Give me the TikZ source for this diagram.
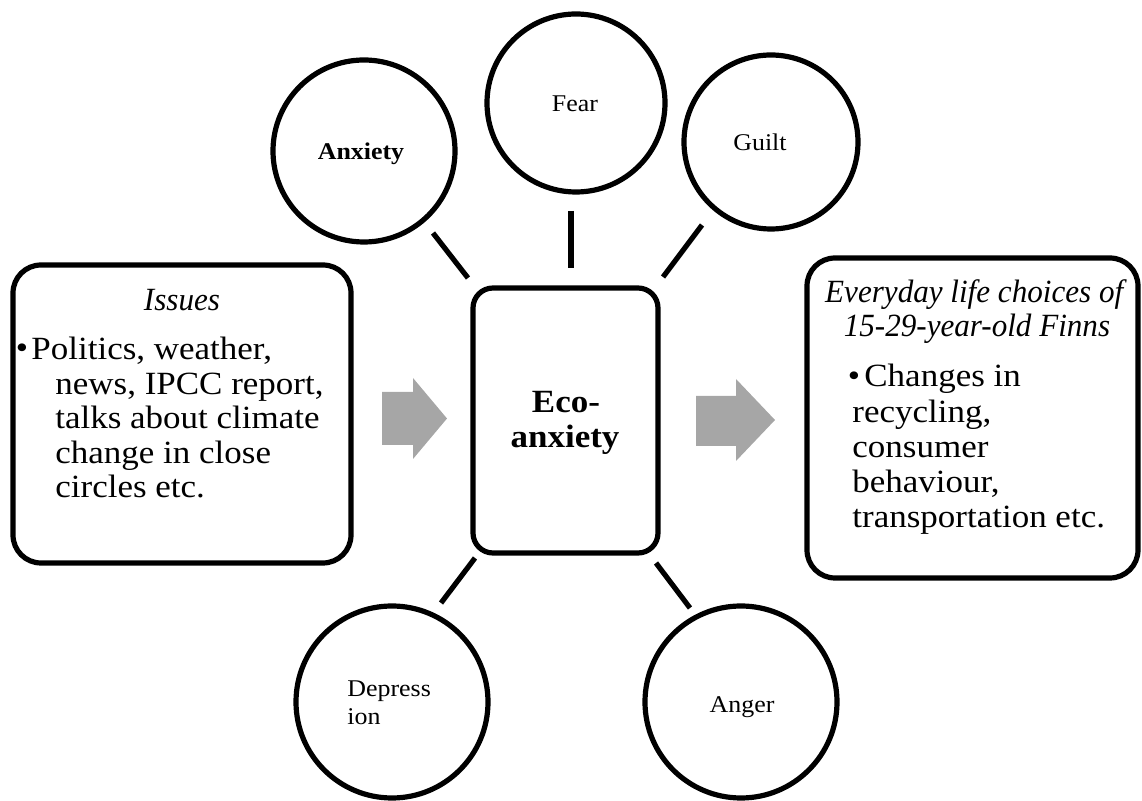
\documentclass[tikz,border=0pt]{standalone}
\usepackage{fontspec}
\setmainfont{Liberation Serif}[UprightFeatures={FakeStretch=1.08},BoldFeatures={FakeStretch=1.08},ItalicFeatures={FakeStretch=0.96}]
\definecolor{arrowgray}{HTML}{A6A6A6}
\begin{document}
\begin{tikzpicture}[x=0.5pt,y=-0.5pt,
  boxstyle/.style={draw=black,line width=2.6pt,rectangle,inner sep=0pt},
  circstyle/.style={draw=black,line width=2.6pt,circle,inner sep=0pt},
  bigtext/.style={font=\fontsize{16.2pt}{17pt}\selectfont,inner sep=0pt},
  smalltext/.style={font=\fontsize{12pt}{14pt}\selectfont,inner sep=0pt},
  linkstyle/.style={draw=black,line width=2.6pt},
  arrowstyle/.style={fill=arrowgray,draw=none}]
\useasboundingbox (0,0) rectangle (1142,801);

% boxes
\node[boxstyle,rounded corners=14pt,minimum width=169pt,minimum height=149pt] (issues) at (182,414) {};
\node[boxstyle,rounded corners=10pt,minimum width=92.5pt,minimum height=132.5pt] (eco) at (565.5,420.5) {};
\node[boxstyle,rounded corners=14pt,minimum width=165.5pt,minimum height=160pt] (choices) at (972.5,418) {};

% circles
\node[circstyle,minimum size=91pt] (anx) at (364,151) {};
\node[circstyle,minimum size=89pt] (fear) at (576,103) {};
\node[circstyle,minimum size=87pt] (guilt) at (771,142) {};
\node[circstyle,minimum size=96pt] (dep) at (392,702) {};
\node[circstyle,minimum size=96pt] (anger) at (741,702) {};

% circle texts
\node[smalltext,anchor=base] (tanx) at (361,160) {\textbf{Anxiety}};
\node[smalltext,anchor=base] (tfear) at (575,112) {Fear};
\node[smalltext,anchor=base] (tguilt) at (760,151) {Guilt};
\node[smalltext,anchor=base] (tanger) at (742,713) {Anger};
\node[smalltext,anchor=base west] (tdep1) at (347,697) {Depress};
\node[smalltext,anchor=base west] (tdep2) at (347,725) {ion};

% connectors
\coordinate (anxA) at (433,233); \coordinate (anxB) at (468,278);
\coordinate (fearA) at (571,211); \coordinate (fearB) at (571,268);
\coordinate (guiltA) at (702,225); \coordinate (guiltB) at (663,277);
\coordinate (depA) at (475,558); \coordinate (depB) at (441,603);
\coordinate (angerA) at (656,563); \coordinate (angerB) at (690,608);
\draw[linkstyle] (anxA) -- (anxB);
\draw[linkstyle] (fearA) -- (fearB);
\draw[linkstyle] (guiltA) -- (guiltB);
\draw[linkstyle] (depA) -- (depB);
\draw[linkstyle] (angerA) -- (angerB);

% grey arrows
\fill[arrowstyle] (382,392) -- (413,392) -- (413,378) -- (447,418.5) -- (413,459) -- (413,445) -- (382,445) -- cycle;
\fill[arrowstyle] (696,396) -- (736,396) -- (736,379) -- (775,420) -- (736,461) -- (736,446) -- (696,446) -- cycle;

% centre text
\node[bigtext,anchor=base] (eco1) at (566,413) {\textbf{Eco-}};
\node[bigtext,anchor=base] (eco2) at (565,448) {\textbf{anxiety}};

% left box text
\node[bigtext,anchor=base] (ihead) at (182,311) {\textit{Issues}};
\node[bigtext] (ibul) at (22,351) {\textbullet};
\node[bigtext,anchor=base west] (il1) at (31,360) {Politics, weather,};
\node[bigtext,anchor=base west] (il2) at (55,394.5) {news, IPCC report,};
\node[bigtext,anchor=base west] (il3) at (55,429) {talks about climate};
\node[bigtext,anchor=base west] (il4) at (55,463.5) {change in close};
\node[bigtext,anchor=base west] (il5) at (55,498) {circles etc.};

% right box text
\node[bigtext,anchor=base] (chead1) at (976,303) {\textit{Everyday life choices of}};
\node[bigtext,anchor=base] (chead2) at (977,337) {\textit{15-29-year-old Finns}};
\node[bigtext] (cbul) at (854,379) {\textbullet};
\node[bigtext,anchor=base west] (cl1) at (864,387) {Changes in};
\node[bigtext,anchor=base west] (cl2) at (852,423) {recycling,};
\node[bigtext,anchor=base west] (cl3) at (852,458) {consumer};
\node[bigtext,anchor=base west] (cl4) at (852,493) {behaviour,};
\node[bigtext,anchor=base west] (cl5) at (852,528) {transportation etc.};
\end{tikzpicture}
\end{document}
